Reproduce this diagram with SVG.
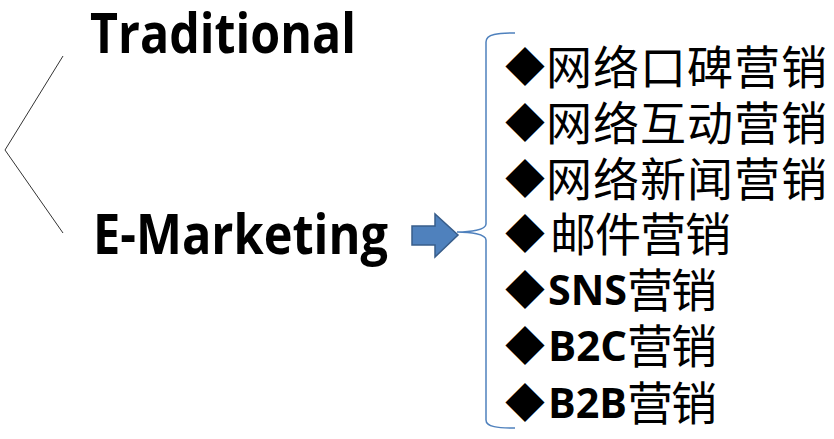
<svg xmlns="http://www.w3.org/2000/svg" width="834" height="439" viewBox="0 0 834 439">
<style>
.lat{font-family:"Open Sans","Lato","Liberation Sans",sans-serif;font-weight:700;fill:#000;font-variant-ligatures:none}
.cjk{font-family:"Noto Sans CJK SC",sans-serif;font-weight:400;fill:#000;font-size:46px}
.dia{font-family:"Noto Sans CJK SC",sans-serif;fill:#000;font-size:40px}
.conn{fill:none;stroke:#333;stroke-width:1}
.brace{fill:none;stroke:#4f81bd;stroke-width:1.5}
</style>
<rect width="834" height="439" fill="#fff"/>
<g id="connectors">
<polyline class="conn" points="63,56 5,150 63,233"/>
</g>
<g id="traditional">
<text class="lat" x="90" y="53" font-size="55" textLength="266" lengthAdjust="spacingAndGlyphs">Traditional</text>
</g>
<g id="e-marketing">
<text class="lat" x="93" y="254" font-size="55" textLength="295" lengthAdjust="spacingAndGlyphs">E-Marketing</text>
</g>
<g id="arrow">
<polygon points="412,226 435,226 435,214 458,235 435,257 435,245 412,245" fill="#4f81bd" stroke="#385d8a" stroke-width="1.5" stroke-linejoin="miter"/>
</g>
<g id="brace">
<path class="brace" d="M515,33 C498,33 486,34 486,42 L486,224 C486,230 470,232 457,232 C470,232 486,234 486,240 L486,420 C486,427 498,428 515,428"/>
</g>
<g id="item1"><text class="dia" x="505" y="82">◆</text><text class="cjk" x="546 593 640 687 734 781" y="84">网络口碑营销</text></g>
<g id="item2"><text class="dia" x="505" y="138">◆</text><text class="cjk" x="546 593 640 687 734 781" y="140">网络互动营销</text></g>
<g id="item3"><text class="dia" x="505" y="194">◆</text><text class="cjk" x="546 593 640 687 734 781" y="196">网络新闻营销</text></g>
<g id="item4"><text class="dia" x="505" y="249">◆</text><text class="cjk" x="550 595 640 685" y="251">邮件营销</text></g>
<g id="item5"><text class="dia" x="505" y="305">◆</text><text class="lat" x="548" y="305" font-size="41" textLength="79" lengthAdjust="spacingAndGlyphs">SNS</text><text class="cjk" x="627 671" y="307">营销</text></g>
<g id="item6"><text class="dia" x="505" y="361">◆</text><text class="lat" x="548" y="361" font-size="41" textLength="79" lengthAdjust="spacingAndGlyphs">B2C</text><text class="cjk" x="627 671" y="363">营销</text></g>
<g id="item7"><text class="dia" x="505" y="418">◆</text><text class="lat" x="548" y="418" font-size="41" textLength="79" lengthAdjust="spacingAndGlyphs">B2B</text><text class="cjk" x="627 671" y="420">营销</text></g>
</svg>
